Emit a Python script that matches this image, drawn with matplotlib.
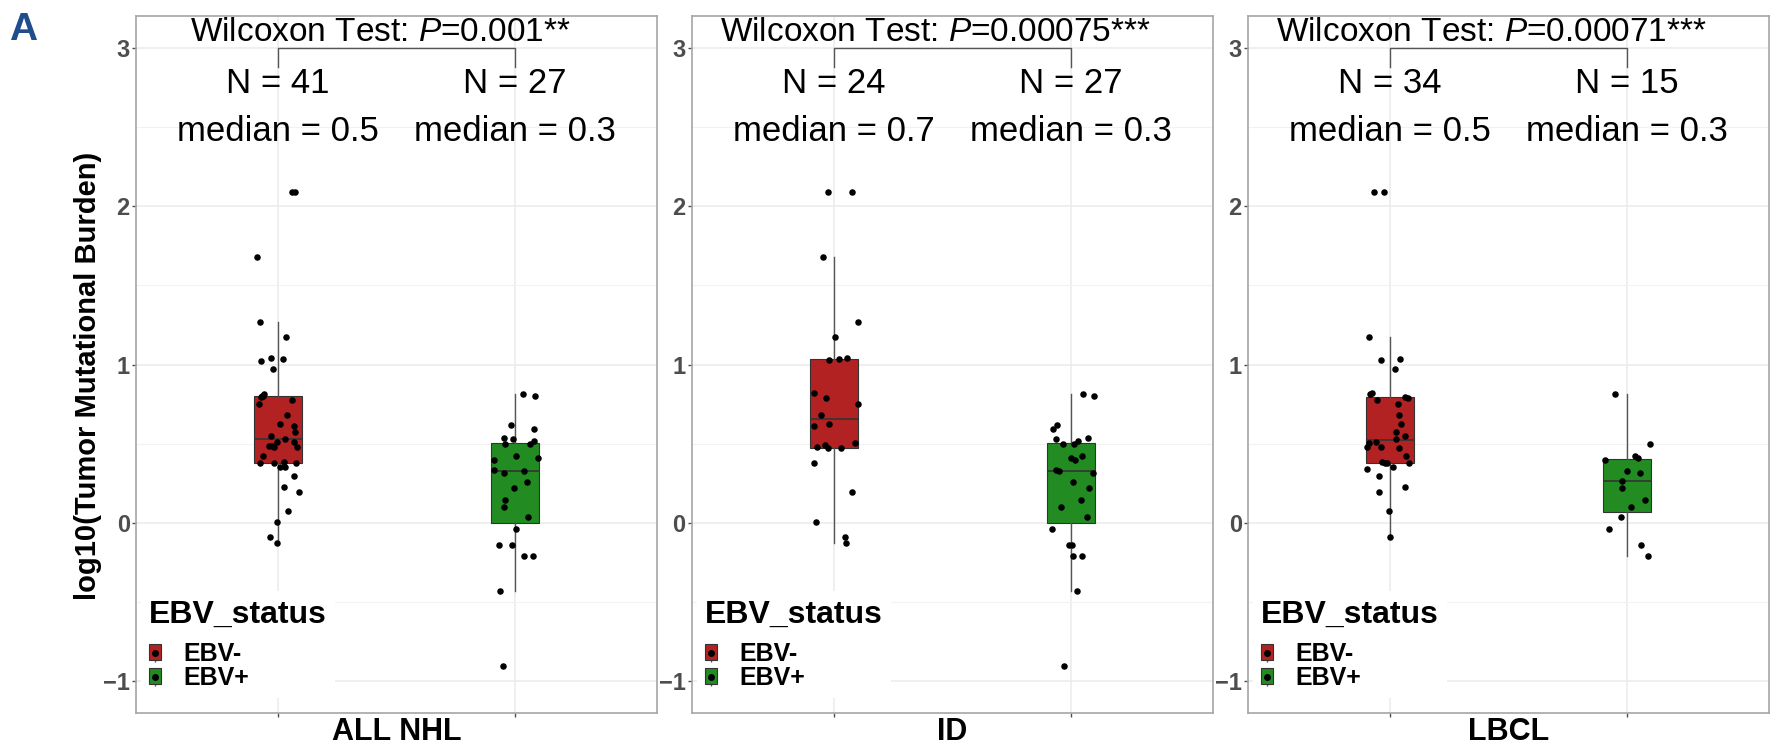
import matplotlib
matplotlib.use('Agg')
import matplotlib.pyplot as plt
import numpy as np
from matplotlib.patches import Patch
from matplotlib.lines import Line2D
from matplotlib.legend_handler import HandlerTuple

plt.rcParams['font.family'] = ['Liberation Sans', 'DejaVu Sans']
plt.rcParams['mathtext.fontset'] = 'custom'
plt.rcParams['mathtext.rm'] = 'Liberation Sans'
plt.rcParams['mathtext.it'] = 'Liberation Sans:italic'

# --- data (log10 TMB), jitter offsets as drawn ---
panels = ['ALL NHL', 'ID', 'LBCL']
groups = ['EBV-', 'EBV+']
p_labels = ['0.001**', '0.00075***', '0.00071***']

all_neg_y = [2.086, 2.086, 1.678, 1.268, 1.175, 1.023, 1.044, 1.035, 0.974, 0.813, 0.804,
             0.793, 0.751, 0.776, 0.681, 0.622, 0.611, 0.571, 0.550, 0.529, 0.513, 0.485,
             0.478, 0.485, 0.508, 0.478, 0.422, 0.380, 0.380, 0.385, 0.378, 0.350, 0.352,
             0.296, 0.226, 0.193, 0.077, 0.007, -0.086, -0.128, 0.800]
all_neg_dx = [0.057, 0.072, -0.09, -0.075, 0.035, -0.071, -0.029, 0.02, -0.021, -0.06, -0.066,
              -0.072, -0.08, 0.06, 0.039, 0.006, 0.069, 0.071, -0.029, 0.03, -0.005, -0.04,
              -0.017, -0.027, 0.069, 0.078, -0.063, -0.075, -0.017, 0.024, 0.075, 0.008, 0.029,
              0.068, 0.027, 0.089, 0.041, -0.005, -0.035, -0.003, -0.064]

all_pos_y = [0.816, 0.802, 0.615, 0.594, 0.536, 0.529, 0.497, 0.497, 0.515, 0.422, 0.410,
             0.396, 0.336, 0.315, 0.329, 0.261, 0.221, 0.145, 0.100, 0.037, -0.037, -0.142,
             -0.142, -0.207, -0.207, -0.429, -0.904]
all_pos_dx = [0.035, 0.084, -0.015, 0.081, -0.045, -0.009, -0.042, 0.062, 0.081, 0.003, 0.098,
              -0.087, -0.089, -0.045, 0.039, 0.051, -0.003, -0.042, -0.044, 0.056, 0.006, -0.068,
              -0.011, 0.039, 0.075, -0.063, -0.05]

id_neg_y = [2.086, 2.086, 1.678, 1.268, 1.175, 1.026, 1.033, 1.044, 0.818, 0.788, 0.751, 0.681,
            0.625, 0.611, 0.503, 0.478, 0.494, 0.476, 0.476, 0.380, 0.193, 0.007, -0.086, -0.128]
id_neg_dx = [-0.026, 0.075, -0.048, 0.099, 0.004, -0.023, 0.02, 0.054, -0.084, -0.036, 0.1, -0.055,
             -0.02, -0.084, 0.09, -0.073, -0.038, -0.026, 0.029, -0.083, 0.077, -0.077, 0.045, 0.052]

id_pos_y = [0.816, 0.802, 0.615, 0.594, 0.536, 0.529, 0.497, 0.497, 0.515, 0.422, 0.410,
            0.396, 0.336, 0.315, 0.329, 0.261, 0.221, 0.145, 0.100, 0.037, -0.037, -0.142,
            -0.142, -0.207, -0.207, -0.429, -0.904]
id_pos_dx = [0.049, 0.096, -0.06, -0.074, 0.073, -0.062, 0.013, -0.035, 0.03, 0.046, 0.0,
             0.017, -0.061, 0.093, -0.049, 0.007, 0.077, 0.041, -0.041, 0.067, -0.081, -0.01,
             0.003, 0.009, 0.046, 0.025, -0.028]

lbcl_neg_y = [2.086, 2.086, 1.175, 1.026, 1.033, 0.974, 0.813, 0.818, 0.776, 0.795, 0.786, 0.751,
              0.681, 0.622, 0.571, 0.550, 0.529, 0.513, 0.503, 0.478, 0.473, 0.422, 0.385, 0.380,
              0.380, 0.380, 0.343, 0.352, 0.296, 0.226, 0.193, 0.077, -0.086, 0.480]
lbcl_neg_dx = [-0.068, -0.025, -0.087, -0.038, 0.043, 0.02, -0.085, -0.077, -0.055, 0.064, 0.077,
               0.035, 0.039, 0.048, 0.025, 0.061, 0.026, -0.058, -0.091, -0.097, 0.039, 0.067,
               -0.033, -0.022, -0.013, 0.078, -0.096, 0.014, -0.045, 0.062, -0.045, -0.006,
               -0.001, -0.04]

lbcl_pos_y = [0.816, 0.499, 0.394, 0.422, 0.410, 0.329, 0.312, 0.263, 0.221, 0.145, 0.100,
              0.037, -0.037, -0.142, -0.207]
lbcl_pos_dx = [-0.049, 0.096, -0.093, 0.035, 0.048, -0.001, 0.056, -0.02, -0.02, 0.075, 0.017,
               -0.023, -0.075, 0.058, 0.09]

panel_data = [
    [(all_neg_y, all_neg_dx), (all_pos_y, all_pos_dx)],
    [(id_neg_y, id_neg_dx), (id_pos_y, id_pos_dx)],
    [(lbcl_neg_y, lbcl_neg_dx), (lbcl_pos_y, lbcl_pos_dx)],
]

colors = ['#B22222', '#228B22']
grid_col = '#EBEBEB'

W, H = 1781, 750
fig = plt.figure(figsize=(W / 100, H / 100), dpi=100)
lefts = [136, 692, 1248]

for i, name in enumerate(panels):
    ax = fig.add_axes([lefts[i] / W, 37 / H, 521 / W, 697 / H])
    ys = [np.array(d[0]) for d in panel_data[i]]

    bp = ax.boxplot(ys, positions=[0, 1], widths=0.2, patch_artist=True,
                    showfliers=False, showcaps=False, whis=1.5,
                    medianprops=dict(color='#333333', lw=1.2),
                    boxprops=dict(edgecolor='#333333', lw=0.8),
                    whiskerprops=dict(color='#555555', lw=1.0), zorder=2)
    for patch, c in zip(bp['boxes'], colors):
        patch.set_facecolor(c)

    for k, (y, dx) in enumerate(panel_data[i]):
        ax.scatter(k + np.array(dx), y, s=22, color='black', zorder=3, linewidths=0)

    ax.set_xlim(-0.6, 1.6)
    ax.set_ylim(-1.2, 3.2)
    ax.set_yticks([-1, 0, 1, 2, 3])
    ax.set_yticks([-0.5, 0.5, 1.5, 2.5], minor=True)
    ax.set_xticks([0, 1])
    ax.set_xticklabels(['', ''])
    ax.grid(which='major', color=grid_col, lw=1.1)
    ax.grid(which='minor', axis='y', color='#F2F2F2', lw=0.8)
    ax.set_axisbelow(True)
    ax.tick_params(which='minor', length=0)
    ax.tick_params(which='major', length=3, width=1, color='#4D4D4D', pad=1.5)
    for lab in ax.get_yticklabels():
        lab.set_fontsize(17)
        lab.set_fontweight('bold')
        lab.set_color('#4D4D4D')
    for s in ax.spines.values():
        s.set_color('#A6A6A6')
        s.set_linewidth(1.2)

    # comparison bracket + test label
    ax.plot([0, 0, 1, 1], [2.88, 3.0, 3.0, 2.88], color='#555555', lw=1, zorder=4)
    ax.text(0.43, 3.04, r'Wilcoxon Test: $\mathit{P}$=' + p_labels[i],
            ha='center', va='baseline', fontsize=24, zorder=5)
    for k, y in enumerate(ys):
        ax.text(k, 2.716, f'N = {len(y)}', ha='center', va='baseline', fontsize=25)
        ax.text(k, 2.41, f'median = {np.median(y):.1f}', ha='center', va='baseline', fontsize=25)

    ax.text(0.5, -0.0387, name, transform=ax.transAxes, ha='center', va='baseline',
            fontsize=22, fontweight='bold')

    handles = []
    for c in colors:
        handles.append((Line2D([], [], color='#555555', marker='|', ls='', markersize=13,
                               markeredgewidth=1),
                        Patch(facecolor=c, edgecolor='#333333', lw=0.8),
                        Line2D([], [], color='black', marker='o', ls='', markersize=4)))
    leg = ax.legend(handles, groups, handler_map={tuple: HandlerTuple(ndivide=1, pad=0)},
                    title='EBV_status', loc='lower left', bbox_to_anchor=(0.0, 0.014),
                    frameon=True, framealpha=1, edgecolor='none', facecolor='white',
                    fancybox=False, prop={'weight': 'bold', 'size': 18},
                    title_fontproperties={'weight': 'bold', 'size': 23},
                    handlelength=0.47, handleheight=0.57, handletextpad=0.9,
                    labelspacing=0.0, borderpad=0.33, borderaxespad=0.2,
                    alignment='left')
    leg._legend_box.sep = 9
    leg.set_zorder(6)

fig.text(88 / W, 1 - 376 / H, 'log10(Tumor Mutational Burden)', rotation=90,
         ha='center', va='center', fontsize=21, fontweight='bold')
fig.text(9 / W, 1 - 40 / H, 'A', fontsize=28, fontweight='bold', color='#1F4E8C',
         va='baseline', ha='left')

fig.savefig('out.png', dpi=100)
